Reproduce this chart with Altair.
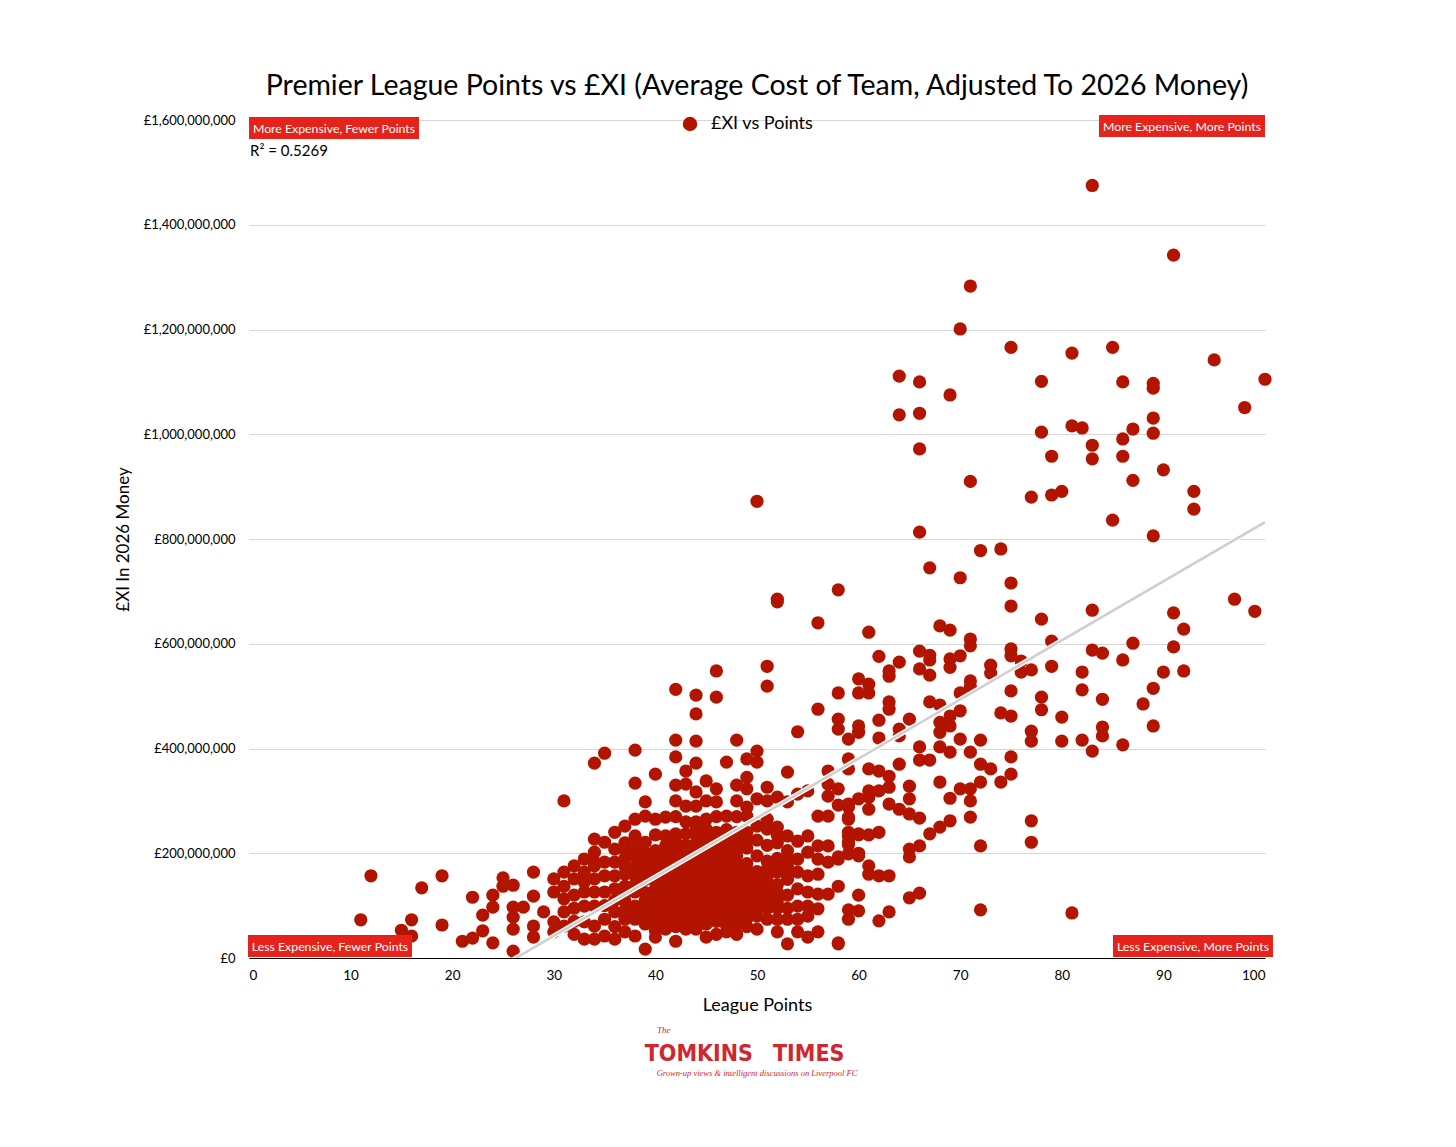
import altair as alt
import pandas as pd

# ---- data: (league points, £XI in millions, 2026 money) ----
high_spend = [
    (83,1475),(91,1342),(71,1283),(70,1201),(75,1166),(85,1166),(81,1155),(95,1142),(100,1105),
    (64,1111),(66,1100),(78,1101),(86,1100),(89,1097),(89,1088),(69,1075),(64,1037),(66,1040),
    (98,1051),(78,1004),(81,1016),(82,1012),(89,1031),(87,1010),(86,991),(89,1002),(66,972),
    (83,979),(83,953),(79,958),(86,958),(90,932),(87,912),(71,910),(77,880),(79,884),(80,891),
    (93,891),(93,857),(85,836),(89,806),(66,813),(50,872),(72,778),(74,781),(67,745),(70,726),
    (75,716),(75,672),(58,703),(78,647),(83,664),(97,685),(99,662),(91,659),(92,628),(61,622),
    (68,634),(69,626),(71,609),(52,685),(52,680),(56,640),
]
mid_spend = [
    (71,596),(79,605),(91,594),(87,601),(83,588),(84,582),(86,569),(66,586),(67,578),(67,569),
    (62,576),(64,565),(69,571),(70,577),(75,590),(75,577),(76,567),(69,555),(66,552),(67,540),
    (63,548),(63,538),(73,559),(73,544),(76,546),(77,550),(79,557),(82,546),(90,546),(92,548),
    (60,533),(61,523),(60,506),(61,506),(58,506),(71,529),(71,517),(70,506),(75,510),(82,512),
    (89,515),(78,498),(78,474),(84,494),(88,485),(63,489),(63,475),(67,489),(68,483),(70,472),
    (69,462),(74,468),(75,462),(80,460),(58,456),(58,437),(60,443),(60,431),(62,454),(65,456),
    (64,437),(64,424),(68,450),(68,431),(69,443),(62,420),(59,418),(70,418),(72,416),(77,433),
    (77,414),(80,414),(82,416),(84,441),(84,424),(86,407),(83,395),(89,443),(66,403),(68,403),
    (69,393),(71,393),(75,384),(66,378),(67,378),(64,370),(59,380),(59,361),(61,361),(62,357),
    (72,370),(73,361),(75,351),(51,557),(51,519),(54,432),(56,475),(46,548),(46,498),(44,502),
    (44,466),(42,513),(42,416),(44,414),(42,384),(44,372),(48,416),(47,374),(50,395),(50,374),
    (49,380),(40,351),(38,397),(35,391),(34,372),(53,355),(57,357),
]
upper_table_low_spend = [
    (63,347),(63,326),(65,328),(65,304),(74,336),(72,336),(68,336),(70,323),(71,323),(71,300),
    (69,305),(61,319),(62,319),(60,304),(61,307),(61,284),(58,323),(63,294),(64,284),(65,275),
    (66,267),(59,294),(59,265),(71,269),(69,262),(68,250),(67,237),(77,262),(77,221),(72,214),
    (59,233),(60,235),(61,235),(62,240),(59,216),(60,200),(58,193),(65,208),(65,193),(66,214),
    (61,176),(61,160),(62,157),(63,157),(58,137),(60,120),(65,115),(66,124),(59,92),(60,90),
    (59,74),(62,71),(63,88),(72,92),(81,86),(58,29),(58,292),(59,288),(57,309),(57,332),
    (56,271),(57,271),(59,269),(59,240),(59,221),(60,237),(56,214),(57,214),(59,199),(60,195),
    (58,189),(57,183),(56,189),(56,160),(56,122),(57,122),(56,94),(56,50),(58,27),
]
mid_table_cluster = [
    (32,176),(32,151),(32,120),(32,95),(32,70),(32,45),
    (33,189),(33,164),(33,145),(33,126),(33,99),(33,69),(33,36),
    (34,227),(34,202),(34,183),(34,176),(34,151),(34,126),(34,99),(34,61),(34,36),
    (35,221),(35,183),(35,157),(35,126),(35,100),(35,74),(35,42),
    (36,240),(36,208),(36,183),(36,157),(36,132),(36,110),(36,88),(36,60),(36,36),
    (37,252),(37,220),(37,190),(37,160),(37,137),(37,109),(37,74),(37,50),
    (38,334),(38,265),(38,233),(38,195),(38,157),(38,126),(38,99),(38,74),(38,42),
    (39,298),(39,271),(39,221),(39,183),(39,150),(39,125),(39,95),(39,65),(39,17),
    (40,265),(40,235),(40,205),(40,175),(40,145),(40,120),(40,90),(40,65),(40,40),
    (41,269),(41,233),(41,214),(41,180),(41,150),(41,125),(41,100),(41,75),(41,55),
    (42,330),(42,300),(42,270),(42,237),(42,208),(42,175),(42,145),(42,115),(42,90),(42,60),(42,32),
    (43,357),(43,332),(43,290),(43,260),(43,237),(43,200),(43,170),(43,140),(43,110),(43,85),(43,55),
    (44,317),(44,290),(44,260),(44,237),(44,205),(44,175),(44,145),(44,115),(44,85),(44,55),
    (45,338),(45,300),(45,265),(45,246),(45,237),(45,210),(45,180),(45,150),(45,120),(45,95),(45,65),(45,40),
    (46,323),(46,298),(46,270),(46,240),(46,210),(46,180),(46,150),(46,120),(46,95),(46,70),(46,45),
    (47,271),(47,245),(47,215),(47,185),(47,155),(47,130),(47,100),(47,75),(47,50),
    (48,330),(48,300),(48,270),(48,240),(48,210),(48,180),(48,150),(48,120),(48,95),(48,65),(48,45),
    (49,345),(49,323),(49,288),(49,271),(49,240),(49,210),(49,180),(49,150),(49,120),(49,90),(49,60),
    (50,304),(50,252),(50,225),(50,195),(50,165),(50,135),(50,110),(50,80),(50,55),
    (51,326),(51,300),(51,265),(51,246),(51,215),(51,185),(51,155),(51,125),(51,95),(51,74),
    (52,307),(52,250),(52,220),(52,190),(52,164),(52,140),(52,109),(52,74),(52,50),
    (53,298),(53,233),(53,205),(53,176),(53,150),(53,120),(53,95),(53,74),(53,27),
    (54,313),(54,223),(54,189),(54,164),(54,132),(54,99),(54,74),(54,50),
    (55,319),(55,233),(55,202),(55,157),(55,126),(55,99),(55,80),(55,40),
]
core_overlap = [
    (37,205),(37,175),(37,122),(37,92),
    (38,212),(38,175),(38,140),(38,86),
    (39,200),(39,165),(39,110),(39,80),
    (40,190),(40,160),(40,132),(40,105),(40,78),(40,52),
    (41,195),(41,165),(41,138),(41,112),(41,88),(41,65),
    (42,222),(42,190),(42,160),(42,130),(42,102),(42,75),
    (43,215),(43,185),(43,155),(43,125),(43,98),(43,70),
    (44,250),(44,220),(44,190),(44,160),(44,130),(44,100),(44,70),
    (45,225),(45,195),(45,165),(45,135),(45,108),(45,80),
    (46,225),(46,195),(46,165),(46,135),(46,108),(46,82),
    (47,230),(47,200),(47,170),(47,142),(47,115),(47,88),(47,62),
    (48,225),(48,195),(48,165),(48,135),(48,108),(48,80),
    (49,225),(49,165),(49,135),(49,105),(49,75),
    (50,150),(50,122),(50,95),
    (51,170),(51,140),(51,110),
    (52,235),(52,178),(52,125),(52,95),
    (53,190),(53,162),
]
low_table = [
    (11,73),(12,157),(15,53),(16,73),(16,42),(17,134),(19,157),(19,63),(21,32),(22,38),
    (22,116),(23,82),(23,52),(24,120),(24,97),(24,29),(25,153),(25,137),(26,139),(26,97),
    (26,78),(26,55),(26,13),(27,97),(28,164),(28,118),(28,61),(28,40),(29,88),(30,151),
    (30,126),(30,69),(30,50),(31,300),(31,164),(31,137),(31,113),(31,88),(31,61),
]

y_ticks = [0, 200e6, 400e6, 600e6, 800e6, 1000e6, 1200e6, 1400e6, 1600e6]
x_ticks = [0, 10, 20, 30, 40, 50, 60, 70, 80, 90, 100]
series_name = "£XI vs Points"
r_squared_label = "R² = 0.5269"

rows = high_spend + mid_spend + upper_table_low_spend + mid_table_cluster + core_overlap + low_table
df = pd.DataFrame({
    "points": [p for p, _ in rows],
    "cost": [c * 1e6 for _, c in rows],
    "series": series_name,
})

FONT = "Lato"
RED_DOT = "#B31400"
BOX_RED = "#E5231B"
LOGO_RED = "#D0262E"

x_enc = alt.X("points:Q", scale=alt.Scale(domain=[0, 100], nice=False),
              axis=alt.Axis(values=x_ticks, title="League Points", grid=False, ticks=False,
                            domainColor="#000000", labelPadding=10, labelFontSize=13.5,
                            titleFontSize=18, titlePadding=15, titleFontWeight="normal",
                            labelColor="#000", titleColor="#000"))
y_enc = alt.Y("cost:Q", scale=alt.Scale(domain=[0, 1.6e9], nice=False),
              axis=alt.Axis(values=y_ticks, title="£XI In 2026 Money", domain=False, ticks=False,
                            labelExpr='"£" + format(datum.value, ",")', labelPadding=14,
                            labelFontSize=13, titleFontSize=17, titlePadding=11,
                            titleFontWeight="normal", gridColor="#d6d6d6",
                            labelColor="#000", titleColor="#000"))

base = alt.Chart(df)

points = base.mark_circle(size=175, opacity=1).encode(
    x=x_enc, y=y_enc,
    color=alt.Color("series:N", scale=alt.Scale(range=[RED_DOT]),
                    legend=alt.Legend(title=None, orient="none", legendX=432, legendY=-5,
                                      labelFontSize=18, symbolSize=210, labelColor="#000",
                                      symbolType="circle", labelOffset=12)),
)

trend = base.transform_regression("points", "cost", extent=[0, 100])
trend_halo = trend.mark_line(color="white", strokeWidth=5, clip=True).encode(x="points:Q", y="cost:Q")
trend_line = trend.mark_line(color="#cfcfcf", strokeWidth=2.5, clip=True).encode(x="points:Q", y="cost:Q")

one = pd.DataFrame({"k": [0]})

def box(x0, x1, y0, y1, text):
    r = alt.Chart(one).mark_rect(color=BOX_RED).encode(
        x=alt.value(x0), x2=alt.value(x1), y=alt.value(y0), y2=alt.value(y1))
    t = alt.Chart(one).mark_text(text=text, color="white", fontSize=12.3, font=FONT,
                                 align="center", baseline="middle").encode(
        x=alt.value((x0 + x1) / 2), y=alt.value((y0 + y1) / 2 + 1))
    return r + t

annos = (
    box(0, 170, -3, 19, "More Expensive, Fewer Points")
    + box(850, 1016, -5, 17, "More Expensive, More Points")
    + box(-1, 163, 815, 837, "Less Expensive, Fewer Points")
    + box(864, 1024, 815, 837, "Less Expensive, More Points")
)

r2 = alt.Chart(one).mark_text(text=r_squared_label, fontSize=15, font=FONT, color="#000",
                              align="left", baseline="middle").encode(
    x=alt.value(1), y=alt.value(31))

logo_l = alt.Chart(one).mark_text(text="TOMKINS", fontSize=23, font="DejaVu Sans Condensed",
                                  fontWeight="bold", color=LOGO_RED, align="right",
                                  baseline="alphabetic").encode(
    x=alt.value(504), y=alt.value(941))
logo_r = alt.Chart(one).mark_text(text="TIMES", fontSize=23, font="DejaVu Sans Condensed",
                                  fontWeight="bold", color=LOGO_RED, align="left",
                                  baseline="alphabetic").encode(
    x=alt.value(524), y=alt.value(941))
logo_the = alt.Chart(one).mark_text(text="The", fontSize=9, font="Liberation Serif", fontStyle="italic",
                                    color=LOGO_RED, align="left", baseline="middle").encode(
    x=alt.value(408), y=alt.value(910))
logo_tag = alt.Chart(one).mark_text(text="Grown-up views & intelligent discussions on Liverpool FC",
                                    fontSize=8.5, font="Liberation Serif", fontStyle="italic",
                                    color=LOGO_RED, align="center", baseline="middle").encode(
    x=alt.value(508), y=alt.value(953))

chart = alt.layer(points, trend_halo, trend_line, annos, r2, logo_l, logo_r, logo_the, logo_tag).properties(
    width=1016, height=838,
    padding={"left": 106, "top": 63, "right": 20, "bottom": 10},
    title=alt.Title("Premier League Points vs £XI (Average Cost of Team, Adjusted To 2026 Money)",
                    fontSize=28.5, font=FONT, fontWeight="normal", color="#000", offset=14),
).configure(font=FONT).configure_view(strokeWidth=0, stroke="transparent")

chart.save("out.html", embed_options={"renderer": "svg", "actions": False})
